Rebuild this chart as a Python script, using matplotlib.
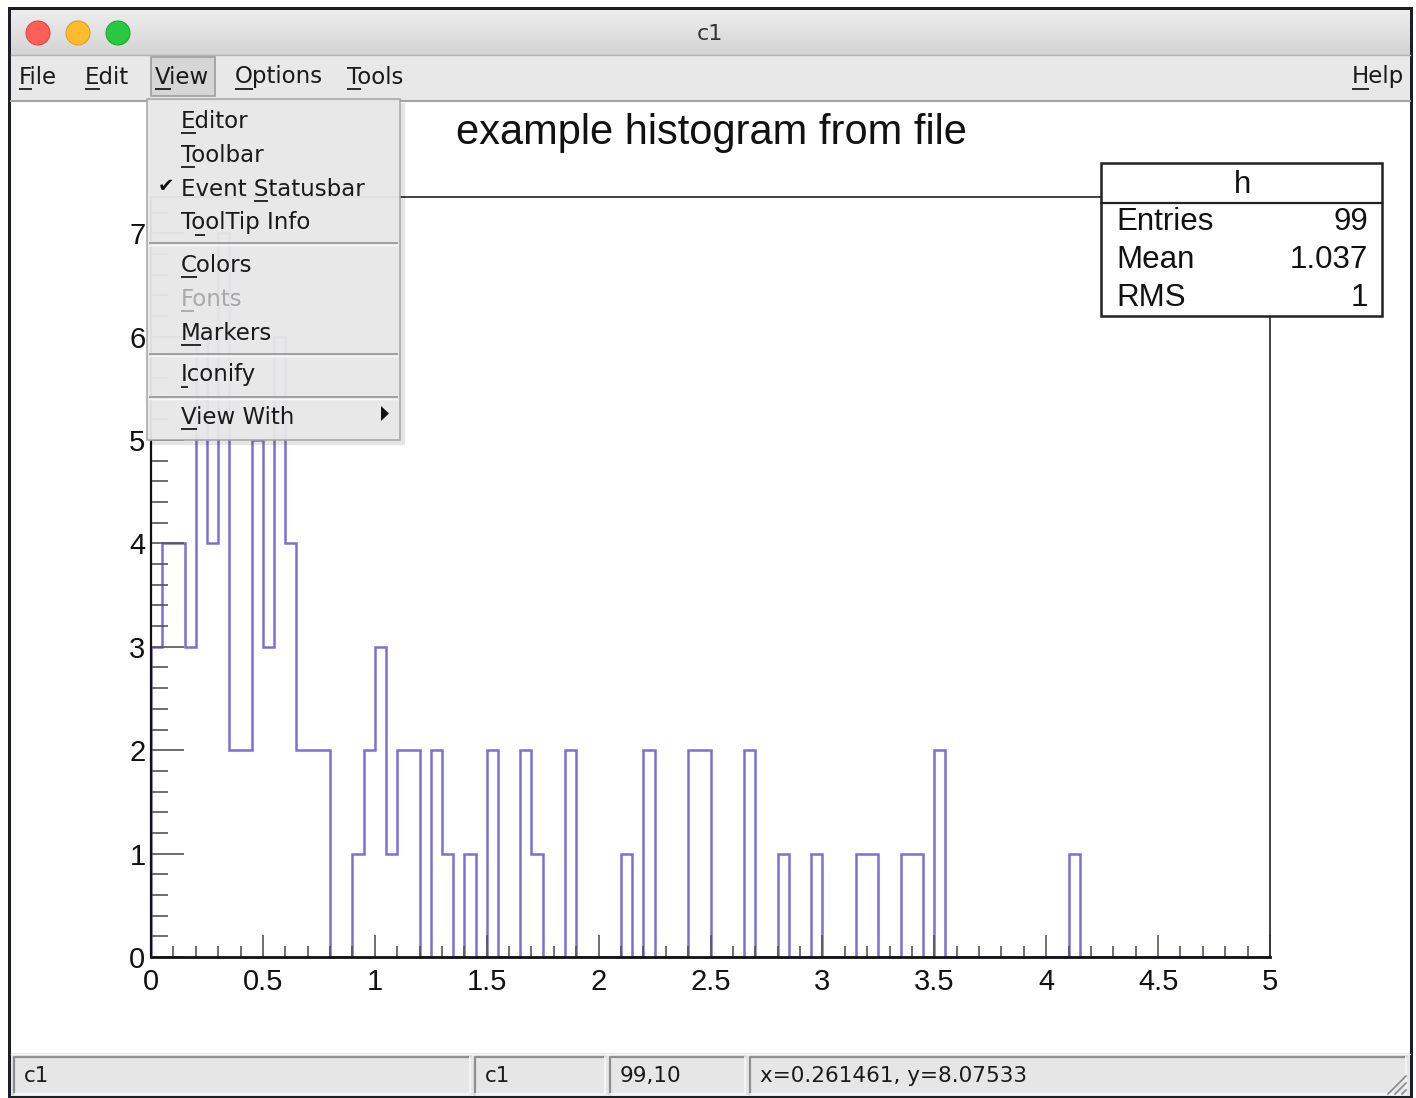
import numpy as np
import matplotlib
matplotlib.use("Agg")
import matplotlib.pyplot as plt
from matplotlib.patches import Rectangle, Circle, Polygon
from matplotlib.colors import LinearSegmentedColormap

W, H = 1416, 1098
UI_FONT = "DejaVu Sans"
ROOT_FONT = "Liberation Sans"

# histogram "h": 100 bins on [0, 5]
x_min, x_max = 0.0, 5.0
bin_counts = [3, 4, 4, 3, 6, 4, 7, 2, 2, 5, 3, 6, 4, 2, 2, 2,
              0, 0, 1, 2, 3, 1, 2, 2, 0, 2, 1, 0, 1, 0, 2, 0,
              0, 2, 1, 0, 0, 2, 0, 0, 0, 0, 1, 0, 2, 0, 0, 0,
              2, 2, 0, 0, 0, 2, 0, 0, 1, 0, 0, 1, 0, 0, 0, 1,
              1, 0, 0, 1, 1, 0, 2, 0, 0, 0, 0, 0, 0, 0, 0, 0,
              0, 0, 1, 0, 0, 0, 0, 0, 0, 0, 0, 0, 0, 0, 0, 0,
              0, 0, 0, 0]
x_ticks = [0, 0.5, 1, 1.5, 2, 2.5, 3, 3.5, 4, 4.5, 5]
x_tick_labels = ["0", "0.5", "1", "1.5", "2", "2.5", "3", "3.5", "4", "4.5", "5"]
y_ticks = [0, 1, 2, 3, 4, 5, 6, 7]
y_tick_labels = ["0", "1", "2", "3", "4", "5", "6", "7"]

title = "example histogram from file"
stat_name = "h"
stat_labels = ["Entries", "Mean", "RMS"]
stat_values = ["99", "1.037", "1"]

menubar_items = ["File", "Edit", "View", "Options", "Tools"]
view_menu = ["Editor", "Toolbar", "Event Statusbar", "ToolTip Info",
             "Colors", "Fonts", "Markers", "Iconify", "View With"]
view_menu_ul = [0, 0, 6, 1, 0, 0, 0, 0, 0]
status_texts = ["c1", "c1", "99,10", "x=0.261461, y=8.07533"]

hist_color = "#7a6fd6"

fig = plt.figure(figsize=(W / 100, H / 100), dpi=100)
fig.patch.set_facecolor("white")

# ---- window chrome ----
bg = fig.add_axes([0, 0, 1, 1])
bg.axis("off")
bg.add_patch(Rectangle((8, 7), 1405, 1091, fc="#1b1d27", ec="none", zorder=1))
tb = LinearSegmentedColormap.from_list("tb", ["#ededed", "#d4d4d4"])
bg.imshow(np.linspace(0, 1, 60)[:, None], extent=(11, 1410, 55, 10),
          cmap=tb, aspect="auto", zorder=2)
bg.plot([11, 1410], [55, 55], color="#b3b3b3", lw=1, zorder=3)
for cx, col, ecol in [(38, "#fc5f57", "#de4a43"), (78, "#fdbb2e", "#de9f22"),
                      (118, "#28c840", "#1ea932")]:
    bg.add_patch(Circle((cx, 33), 12, fc=col, ec=ecol, lw=0.8, zorder=3))
bg.text(710, 34, "c1", fontsize=16, family=UI_FONT, ha="center", va="center",
        color="#333333", zorder=3)
bg.add_patch(Rectangle((11, 55.5), 1399, 46, fc="#e8e8e8", ec="none", zorder=2))
bg.plot([11, 1410], [101, 101], color="#a4a4a4", lw=1.5, zorder=3)
bg.add_patch(Rectangle((11, 102), 1399, 951, fc="white", ec="none", zorder=2))
# status bar
bg.add_patch(Rectangle((11, 1053), 1399, 43, fc="#e6e6e6", ec="none", zorder=2))
bg.plot([11, 1410], [1054, 1054], color="#f4f4f4", lw=1, zorder=3)
for (x0, x1), s in zip([(14, 470), (475, 605), (610, 745), (750, 1406)], status_texts):
    bg.plot([x0, x0, x1], [1094, 1057, 1057], color="#8e8e8e", lw=1.6, zorder=3)
    bg.plot([x0, x1, x1], [1094, 1094, 1057], color="#f7f7f7", lw=1.2, zorder=3)
    bg.text(x0 + 10, 1076, s, fontsize=15.5, family=UI_FONT, ha="left",
            va="center", color="#1a1a1a", zorder=3)
for d in [0, 7, 14]:
    bg.plot([1388 + d, 1406], [1094, 1076 + d], color="#8a8a8a", lw=1.2, zorder=3)
bg.set_xlim(0, W)
bg.set_ylim(H, 0)

# ---- histogram frame ----
ax = fig.add_axes([151 / W, 1 - 957 / H, (1270 - 151) / W, (957 - 197) / H])
edges = np.linspace(x_min, x_max, len(bin_counts) + 1)
ax.stairs(bin_counts, edges, color=hist_color, lw=1.8, baseline=0)
ax.set_xlim(x_min, x_max)
ax.set_ylim(0, 7.35)
ax.set_xticks(x_ticks)
ax.set_xticklabels(x_tick_labels)
ax.set_xticks(np.arange(0, 5.001, 0.1), minor=True)
ax.set_yticks(y_ticks)
ax.set_yticklabels(y_tick_labels)
ax.set_yticks(np.arange(0, 7.35, 0.2), minor=True)
ax.tick_params(axis="both", which="both", direction="in", color="#555555",
               width=1.2, labelsize=21, labelcolor="#111111")
ax.tick_params(axis="y", which="major", length=24, pad=4)
ax.tick_params(axis="y", which="minor", length=12)
ax.tick_params(axis="x", which="major", length=16, pad=8)
ax.tick_params(axis="x", which="minor", length=8)
for lab in ax.get_xticklabels() + ax.get_yticklabels():
    lab.set_family(ROOT_FONT)
ax.spines["left"].set_linewidth(1.6)
ax.spines["bottom"].set_linewidth(2.0)
ax.spines["left"].set_color("#111111")
ax.spines["bottom"].set_color("#111111")
for side in ["top", "right"]:
    ax.spines[side].set_linewidth(1.3)
    ax.spines[side].set_color("#333333")

# ---- overlay: title, stats box, menus ----
ov = fig.add_axes([0, 0, 1, 1])
ov.axis("off")
ov.patch.set_visible(False)
ov.set_xlim(0, W)
ov.set_ylim(H, 0)

ov.text(711, 133, title, fontsize=30, family=ROOT_FONT, ha="center",
        va="center", color="#111111")

ov.add_patch(Rectangle((1101, 163), 281, 153, fc="white", ec="#222222", lw=1.8))
ov.plot([1101, 1382], [203, 203], color="#222222", lw=1.6)
ov.text(1242, 185, stat_name, fontsize=22.5, family=ROOT_FONT, ha="center",
        va="center", color="#111111")
for i, (lab, val) in enumerate(zip(stat_labels, stat_values)):
    y = 222 + 38 * i
    ov.text(1116, y, lab, fontsize=22.5, family=ROOT_FONT, ha="left",
            va="center", color="#111111")
    ov.text(1368, y, val, fontsize=22.5, family=ROOT_FONT, ha="right",
            va="center", color="#111111")

renderer = fig.canvas.get_renderer()


def text_w(s, size):
    if not s:
        return 0.0
    t = ov.text(0, 0, s, fontsize=size, family=UI_FONT)
    w = t.get_window_extent(renderer).width
    t.remove()
    return w


def ul_text(x, y, s, u, size=16.5, color="#1a1a1a"):
    ov.text(x, y, s, fontsize=size, family=UI_FONT, ha="left", va="center",
            color=color)
    x0 = x + text_w(s[:u], size)
    x1 = x + text_w(s[:u + 1], size)
    ov.plot([x0, x1], [y + 12, y + 12], color=color, lw=1.3,
            solid_capstyle="butt")


# menubar
ov.add_patch(Rectangle((151, 57), 64, 39, fc="#d6d6d6", ec="#9d9d9d", lw=1.2))
for x, s in zip([19, 85, 155, 235, 347], menubar_items):
    ul_text(x, 77, s, 0)
ul_text(1352, 77, "Help", 0)

# View dropdown
ov.add_patch(Rectangle((151, 103), 254, 342, fc="black", ec="none", alpha=0.10))
ov.add_patch(Rectangle((147, 99), 253, 341, fc="#e9e9e9", ec="#a6a6a6",
                       lw=1.2, alpha=0.95))
item_y = [121, 155, 189, 223, 265, 299, 333, 375, 417]
for y, s, u in zip(item_y, view_menu, view_menu_ul):
    col = "#a9a9a9" if s == "Fonts" else "#1a1a1a"
    ul_text(181, y, s, u, color=col)
for y in [243, 354, 397]:
    ov.plot([150, 397], [y, y], color="#9e9e9e", lw=1.4)
    ov.plot([150, 397], [y + 1.5, y + 1.5], color="#f8f8f8", lw=1)
ov.text(166, 187, "\u2714", fontsize=14, family=UI_FONT, ha="center",
        va="center", color="#111111")
ov.add_patch(Polygon([(381, 406), (381, 421), (389, 413.5)], closed=True,
                     fc="#111111", ec="none"))

fig.savefig("out.png", dpi=100)
